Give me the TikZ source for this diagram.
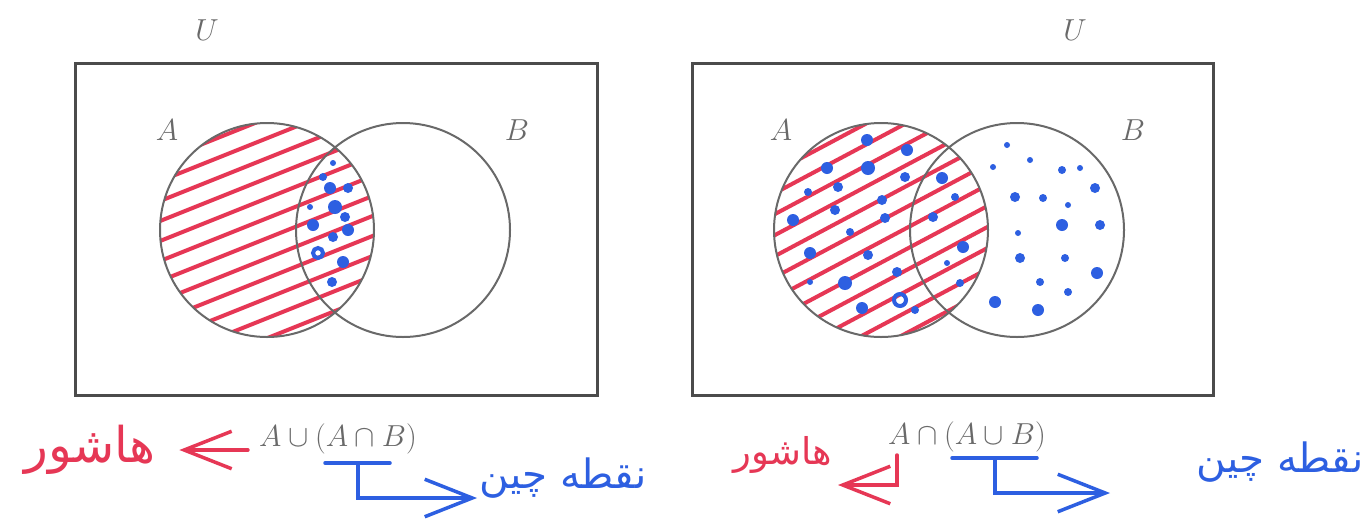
\documentclass[tikz,border=0pt]{standalone}
\usepackage{fontspec}
\newfontfamily\arabicfont[Script=Arabic]{DejaVu Sans}
\TeXXeTstate=1
\usetikzlibrary{arrows.meta}

\definecolor{inkred}{RGB}{230,55,85}
\definecolor{inkblue}{RGB}{45,95,225}
\definecolor{pencil}{RGB}{105,105,105}
\definecolor{frame}{RGB}{75,75,75}

\tikzset{
  setlabel/.style={text=pencil, font=\fontsize{17}{20}\selectfont},
  formula/.style={text=pencil, font=\fontsize{16}{19}\selectfont},
  universe/.style={draw=frame, line width=0.6mm},
  setline/.style={draw=pencil, line width=0.4mm},
  hatch/.style={inkred, line width=0.8mm, line cap=round},
  redpen/.style={inkred, line width=0.7mm, line cap=round},
  bluepen/.style={inkblue, line width=0.7mm, line cap=round},
  barb/.style={-{Straight Barb[length=9.5mm, width=7.5mm]}},
  note/.style={font=\fontsize{#1}{#1}\arabicfont},
}

\begin{document}
\begin{tikzpicture}[x=0.2mm, y=-0.2mm]
  \fill[white] (0,0) rectangle (1369,527);
  \useasboundingbox (0,0) rectangle (1369,527);

  % left: A union (A intersect B)
  \draw[universe] (75,63) rectangle (597,395);
  \node[setlabel] (uL) at (207,30) {$U$};
  \node[setlabel] (aL) at (167,130) {$A$};
  \node[setlabel] (bL) at (517,130) {$B$};
  \begin{scope}
    \clip (267,230) circle[radius=107];
    \foreach \k in {0,...,11}
      \draw[hatch] (150,{165+20*\k}) -- (390,{165+20*\k-96});
  \end{scope}
  \begin{scope}
    \clip (267,230) circle[radius=107];
    \clip (403,230) circle[radius=107];
    \foreach \x/\y/\r in {333/163/3, 323/177/4, 330/188/6, 348/188/5, 310/207/3,
      335/207/7, 345/217/5, 313/225/6, 348/230/6, 333/237/5, 343/262/6, 332/282/5}
      \fill[inkblue] (\x,\y) circle[radius=\r];
    \draw[inkblue, line width=0.8mm] (318,253) circle[radius=5];
  \end{scope}
  \draw[setline] (267,230) circle[radius=107];
  \draw[setline] (403,230) circle[radius=107];

  % right: A intersect (A union B)
  \draw[universe] (692,63) rectangle (1213,395);
  \node[setlabel] (uR) at (1075,30) {$U$};
  \node[setlabel] (aR) at (781,130) {$A$};
  \node[setlabel] (bR) at (1133,130) {$B$};
  \begin{scope}
    \clip (881,230) circle[radius=107];
    \foreach \k in {0,...,11}
      \draw[hatch] (760,{180+21*\k}) -- (1010,{180+21*\k-133});
  \end{scope}
  \foreach \x/\y/\r in {867/140/6, 907/150/6, 827/168/6, 868/168/7, 905/177/5,
    808/192/4, 838/187/5, 882/200/5, 835/210/5, 793/220/6, 885/218/5, 850/232/4,
    810/253/6, 868/255/5, 897/272/5, 810/282/3, 845/283/7, 862/308/6, 915/310/4,
    942/178/6, 955/197/4, 933/217/5, 963/247/6, 947/263/3, 960/283/4,
    1007/145/3, 993/167/3, 1030/160/3, 1062/170/4, 1080/168/3, 1095/188/5,
    1015/197/5, 1043/198/4, 1068/205/3, 1062/225/6, 1100/225/5, 1018/233/3,
    1020/258/5, 1065/258/4, 1097/273/6, 1040/282/4, 1068/292/4, 995/302/6, 1038/310/6}
    \fill[inkblue] (\x,\y) circle[radius=\r];
  \draw[inkblue, line width=0.8mm] (900,300) circle[radius=6];
  \draw[setline] (881,230) circle[radius=107];
  \draw[setline] (1017,230) circle[radius=107];

  % formulas and notes
  \node[formula] (fL) at (338,439) {$A\cup(A\cap B)$};
  \node[formula] (fR) at (967,437) {$A\cap(A\cup B)$};
  \node[note=28, text=inkred] (hL) at (90,450) {\beginR هاشور\endR};
  \node[note=21, text=inkred] (hR) at (783,455) {\beginR هاشور\endR};
  \node[note=23, text=inkblue] (nL) at (563,478) {\beginR نقطه چین\endR};
  \node[note=23, text=inkblue] (nR) at (1280,462) {\beginR نقطه چین\endR};

  \coordinate (rL) at ([xshift=-1mm]fL.west |- hL.east);
  \coordinate (rR) at (897,455);
  \coordinate (tR) at (838,485);
  \draw[redpen, barb] (rL) -- ([xshift=3.5mm]hL.east);
  \draw[redpen, barb] (rR) |- (tR);

  \coordinate (uL1) at (325,463);
  \coordinate (uL2) at (390,463);
  \coordinate (kL) at (358,463);
  \coordinate (tL) at (477,498);
  \draw[bluepen] (uL1) -- (uL2);
  \draw[bluepen, barb] (kL) |- (tL);
  \coordinate (uR1) at (952,458);
  \coordinate (uR2) at (1037,458);
  \coordinate (kR) at (995,458);
  \coordinate (tB) at (1110,493);
  \draw[bluepen] (uR1) -- (uR2);
  \draw[bluepen, barb] (kR) |- (tB);
\end{tikzpicture}
\end{document}
